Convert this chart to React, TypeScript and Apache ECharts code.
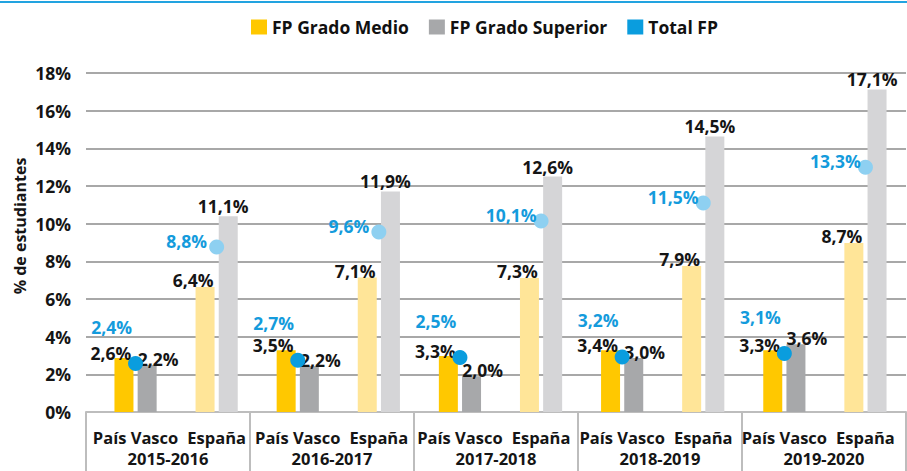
import React, { useEffect, useRef } from "react";
import * as echarts from "echarts";

// ---- Data ----
const years = ["2015-2016", "2016-2017", "2017-2018", "2018-2019", "2019-2020"];
const regions = ["País Vasco", "España"];

// Bar heights as drawn in the picture (% of students)
const medioPV = [2.87, 3.28, 2.97, 3.28, 3.28];
const medioES = [6.64, 7.14, 7.12, 7.75, 8.97];
const superiorPV = [2.5, 2.44, 1.9, 2.87, 3.6];
const superiorES = [10.39, 11.71, 12.5, 14.63, 17.13];
const totalPV = [2.57, 2.75, 2.89, 2.92, 3.1];
const totalES = [8.76, 9.56, 10.14, 11.1, 13.0];

// Printed value labels
const medioPVLabel = [2.6, 3.5, 3.3, 3.4, 3.3];
const medioESLabel = [6.4, 7.1, 7.3, 7.9, 8.7];
const superiorPVLabel = [2.2, 2.2, 2.0, 3.0, 3.6];
const superiorESLabel = [11.1, 11.9, 12.6, 14.5, 17.1];
const totalPVLabel = [2.4, 2.7, 2.5, 3.2, 3.1];
const totalESLabel = [8.8, 9.6, 10.1, 11.5, 13.3];

const yTicks = [0, 2, 4, 6, 8, 10, 12, 14, 16, 18];

const FONT = "'Open Sans', 'Noto Sans', 'DejaVu Sans', sans-serif";
const fmt = (v: number) => v.toFixed(1).replace(".", ",") + "%";

const categories: string[] = [];
years.forEach(() => regions.forEach((r) => categories.push(r)));

function interleave(pv: number[], es: number[]) {
  const out: { v: number; pv: boolean; i: number }[] = [];
  pv.forEach((_, i) => {
    out.push({ v: pv[i], pv: true, i });
    out.push({ v: es[i], pv: false, i });
  });
  return out;
}

function barData(
  pv: number[],
  es: number[],
  pvLab: number[],
  esLab: number[],
  pvColor: string,
  esColor: string,
  pvOffset: number[],
  esOffset: number[]
) {
  return interleave(pv, es).map((d) => ({
    value: d.v,
    itemStyle: { color: d.pv ? pvColor : esColor },
    label: {
      show: true,
      position: "top",
      distance: 4,
      offset: d.pv ? pvOffset : esOffset,
      formatter: fmt(d.pv ? pvLab[d.i] : esLab[d.i]),
      color: "#151515",
      fontFamily: FONT,
      fontWeight: "bold",
      fontSize: 17.5,
      lineHeight: 16,
    },
  }));
}

function dotData() {
  return interleave(totalPV, totalES).map((d) => ({
    value: d.v,
    itemStyle: { color: d.pv ? "#0A9DDE" : "#8ED0F1", opacity: 1 },
    label: {
      show: true,
      position: "inside",
      offset: d.pv ? [-24, -37] : [-30, -6],
      formatter: fmt(d.pv ? totalPVLabel[d.i] : totalESLabel[d.i]),
      color: "#149BDC",
      fontFamily: FONT,
      fontWeight: "bold",
      fontSize: 17.5,
      lineHeight: 16,
    },
  }));
}

export default function App() {
  const ref = useRef<HTMLDivElement>(null);

  useEffect(() => {
    if (!ref.current) return;
    const chart = echarts.init(ref.current, undefined, { renderer: "svg" });
    const option: any = {
      animation: false,
      backgroundColor: "#ffffff",
      textStyle: { fontFamily: FONT },
      legend: {
        data: ["FP Grado Medio", "FP Grado Superior", "Total FP"],
        left: 246,
        top: 13,
        icon: "rect",
        itemWidth: 16,
        itemHeight: 15,
        itemGap: 20,
        textStyle: {
          fontFamily: FONT,
          fontWeight: "bold",
          fontSize: 17.5,
          color: "#111111",
        },
      },
      graphic: [
        {
          type: "rect",
          left: 0,
          top: 1,
          shape: { width: 907, height: 2 },
          style: { fill: "#22A3E0" },
        },
        {
          type: "text",
          x: 20,
          y: 226,
          rotation: Math.PI / 2,
          style: {
            text: "% de estudiantes",
            fontFamily: FONT,
            fontWeight: "bold",
            fontSize: 16,
            fill: "#151515",
            textAlign: "center",
            textVerticalAlign: "middle",
          },
        },
      ],
      grid: [
        { left: 95, right: 1, top: 73, bottom: 59 },
        { left: 86, right: 1, top: 73, bottom: 59 },
      ],
      xAxis: [
        {
          type: "category",
          gridIndex: 0,
          data: categories,
          axisLine: { show: false },
          axisTick: { show: false },
          axisLabel: {
            interval: 0,
            margin: 17,
            color: "#151515",
            fontFamily: FONT,
            fontWeight: "bold",
            fontSize: 16.5,
            lineHeight: 16,
          },
        },
        {
          type: "category",
          gridIndex: 1,
          data: years,
          axisLine: { show: true, lineStyle: { color: "#BDBDBD", width: 2 } },
          axisTick: {
            show: true,
            interval: 0,
            length: 62,
            lineStyle: { color: "#BDBDBD", width: 2 },
          },
          axisLabel: {
            interval: 0,
            margin: 39,
            color: "#151515",
            fontFamily: FONT,
            fontWeight: "bold",
            fontSize: 16.5,
            lineHeight: 15,
          },
        },
      ],
      yAxis: [
        {
          type: "value",
          gridIndex: 0,
          min: yTicks[0],
          max: yTicks[yTicks.length - 1],
          interval: 2,
          show: false,
        },
        {
          type: "value",
          gridIndex: 1,
          min: yTicks[0],
          max: yTicks[yTicks.length - 1],
          interval: 2,
          axisLine: { show: false },
          axisTick: { show: false },
          splitLine: { show: true, lineStyle: { color: "#A8A8A8", width: 2 } },
          axisLabel: {
            margin: 15,
            formatter: "{value}%",
            color: "#151515",
            fontFamily: FONT,
            fontWeight: "bold",
            fontSize: 17.5,
          },
        },
      ],
      series: [
        {
          name: "FP Grado Medio",
          type: "bar",
          xAxisIndex: 0,
          yAxisIndex: 0,
          barWidth: 19,
          barGap: "22%",
          itemStyle: { color: "#FFC800" },
          data: barData(medioPV, medioES, medioPVLabel, medioESLabel, "#FFC800", "#FFE598", [-13, 7], [-12, 5]),
        },
        {
          name: "FP Grado Superior",
          type: "bar",
          xAxisIndex: 0,
          yAxisIndex: 0,
          barWidth: 19,
          barGap: "22%",
          itemStyle: { color: "#A7A8AA" },
          data: barData(superiorPV, superiorES, superiorPVLabel, superiorESLabel, "#A7A8AA", "#D5D5D7", [11, 6], [-5, 2]),
        },
        {
          name: "Total FP",
          type: "scatter",
          xAxisIndex: 0,
          yAxisIndex: 0,
          symbol: "circle",
          symbolSize: 15,
          z: 5,
          itemStyle: { color: "#0A9DDE", opacity: 1 },
          data: dotData(),
        },
      ],
    };
    chart.setOption(option);
    return () => chart.dispose();
  }, []);

  return (
    <div
      ref={ref}
      style={{ position: "absolute", left: 0, top: 0, width: 907, height: 471 }}
    />
  );
}
